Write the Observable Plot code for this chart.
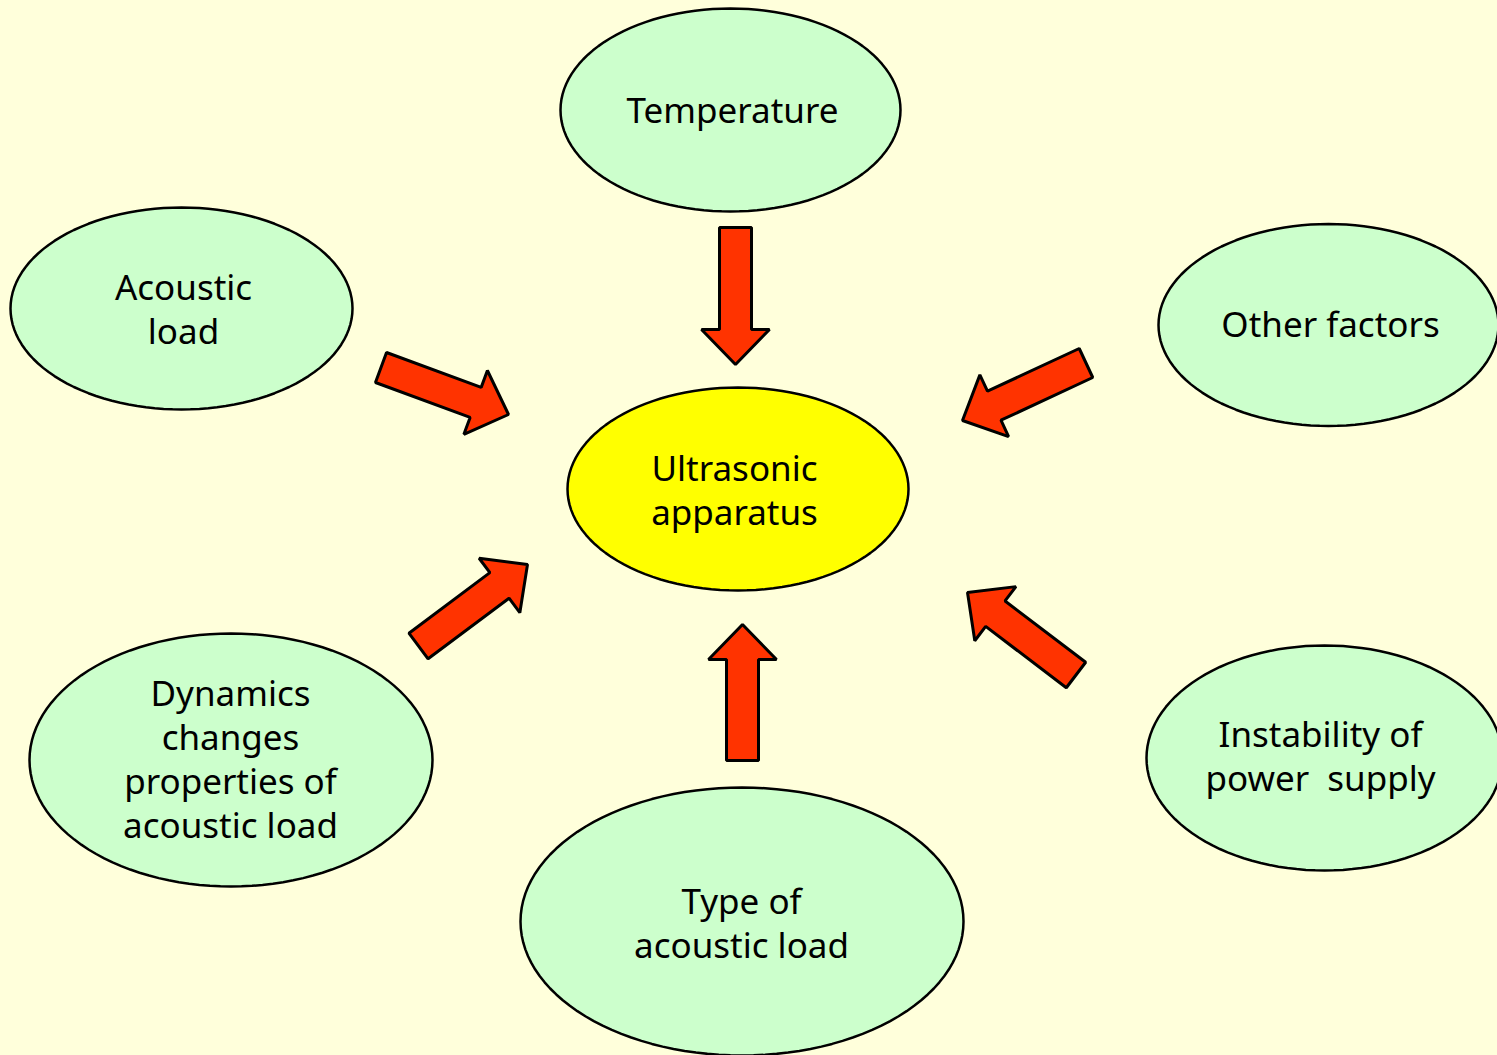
<!DOCTYPE html>
<html>
<head>
<meta charset="utf-8">
<script src="https://cdn.jsdelivr.net/npm/d3@7"></script>
<script src="https://cdn.jsdelivr.net/npm/@observablehq/plot@0.6"></script>
<style>
  html, body { margin: 0; padding: 0; background: #ffffdb; overflow: hidden; }
  #chart svg { display: block; }
</style>
</head>
<body>
<div id="chart"></div>
<script>
// ---- Nodes (ellipses) ----
const nodeNames = ["Temperature", "Acoustic load", "Other factors", "Ultrasonic apparatus",
                   "Dynamics", "Type of acoustic load", "Instability of power supply"];
const nodeCX = [730, 181, 1328, 737.5, 230.5, 741.5, 1324];
const nodeCY = [109.5, 308, 324.5, 488.5, 759.5, 921, 757.5];
const nodeRX = [170, 171, 170, 170.5, 201.5, 221.5, 178];
const nodeRY = [101.5, 101, 101, 101.5, 126.5, 134, 112.5];
const nodeKind = ["factor", "factor", "factor", "center", "factor", "factor", "factor"];

// ---- Labels ----
const labelText = ["Temperature", "Acoustic\nload", "Other factors", "Ultrasonic\napparatus",
                   "Dynamics\nchanges\nproperties of\nacoustic load", "Type of\nacoustic load",
                   "Instability of\npower  supply"];
const labelX = [732, 183, 1330, 734, 230, 741, 1320];
const labelY = [108, 307.5, 322.5, 488, 757.5, 921.5, 754];

// ---- Arrows (tail -> tip) ----
const arrowTailX = [735, 742, 380.5, 1085.5, 1075.5, 418];
const arrowTailY = [227, 760, 367, 362.5, 674.5, 645.5];
const arrowTipX  = [735, 742, 508, 962, 967, 527];
const arrowTipY  = [364, 624, 414, 420, 592, 564];

// ---- Styles ----
const bg = "#ffffdb";
const factorFill = "#ccffcc";
const centerFill = "#ffff00";
const arrowFill = "#ff3300";
const shaftW = 32, headW = 68, headL = 35;
const font = "'Comic Sans MS', 'Noto Sans', sans-serif";

// Build ellipse outlines
const ellipsePts = [];
nodeNames.forEach((name, i) => {
  const N = 120;
  for (let k = 0; k < N; k++) {
    const t = 2 * Math.PI * k / N;
    ellipsePts.push({id: name, kind: nodeKind[i],
      x: nodeCX[i] + nodeRX[i] * Math.cos(t),
      y: nodeCY[i] + nodeRY[i] * Math.sin(t)});
  }
});

// Build arrow polygons
const arrowPts = [];
arrowTailX.forEach((_, i) => {
  const tx = arrowTailX[i], ty = arrowTailY[i], px = arrowTipX[i], py = arrowTipY[i];
  const L = Math.hypot(px - tx, py - ty);
  const ux = (px - tx) / L, uy = (py - ty) / L;
  const nx = -uy, ny = ux;
  const bx = px - ux * headL, by = py - uy * headL;
  const pts = [
    [tx + nx * shaftW / 2, ty + ny * shaftW / 2],
    [bx + nx * shaftW / 2, by + ny * shaftW / 2],
    [bx + nx * headW / 2, by + ny * headW / 2],
    [px, py],
    [bx - nx * headW / 2, by - ny * headW / 2],
    [bx - nx * shaftW / 2, by - ny * shaftW / 2],
    [tx - nx * shaftW / 2, ty - ny * shaftW / 2]
  ];
  pts.forEach(([x, y]) => arrowPts.push({id: i, x, y}));
});

const labels = labelText.map((t, i) => ({text: t, x: labelX[i], y: labelY[i]}));

const W = 1497, H = 1055;
const chart = Plot.plot({
  width: W,
  height: H,
  margin: 0,
  x: {domain: [0, W], range: [0, W], axis: null},
  y: {domain: [0, H], range: [0, H], axis: null},
  style: {background: bg, fontFamily: font},
  marks: [
    Plot.line(ellipsePts.filter(d => d.kind === "factor"), {
      x: "x", y: "y", z: "id", curve: "linear-closed",
      fill: factorFill, stroke: "black", strokeWidth: 2.5, clip: true
    }),
    Plot.line(ellipsePts.filter(d => d.kind === "center"), {
      x: "x", y: "y", z: "id", curve: "linear-closed",
      fill: centerFill, stroke: "black", strokeWidth: 2.5, clip: true
    }),
    Plot.line(arrowPts, {
      x: "x", y: "y", z: "id", curve: "linear-closed",
      fill: arrowFill, stroke: "black", strokeWidth: 3, strokeLinejoin: "miter"
    }),
    Plot.text(labels, {
      x: "x", y: "y", text: "text", fontSize: 35, lineHeight: 1.257,
      fill: "black", textAnchor: "middle", fontFamily: font
    })
  ]
});
document.getElementById("chart").appendChild(chart);
</script>
</body>
</html>
